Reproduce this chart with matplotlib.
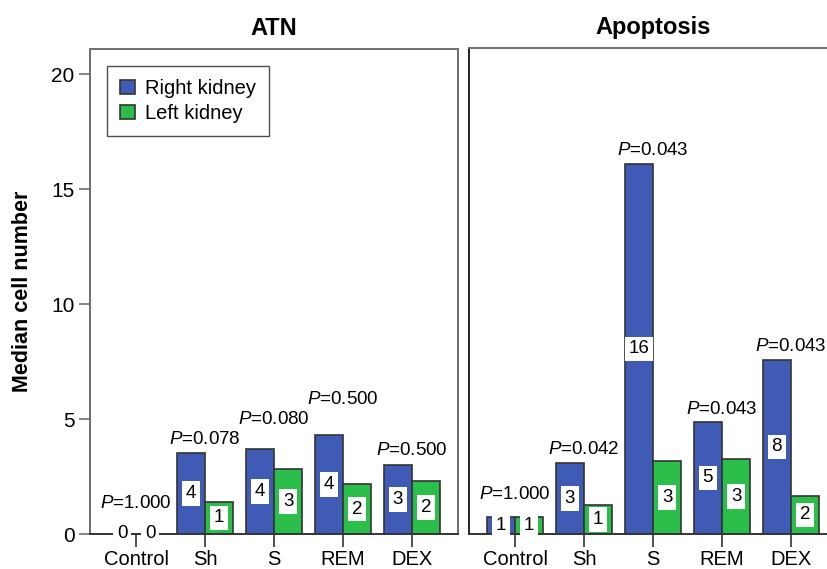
import matplotlib
matplotlib.use('Agg')
import matplotlib.pyplot as plt
import numpy as np

plt.rcParams['font.family'] = ['Liberation Sans', 'DejaVu Sans']
plt.rcParams['mathtext.fontset'] = 'custom'
plt.rcParams['mathtext.it'] = 'Liberation Sans:italic'
plt.rcParams['mathtext.rm'] = 'Liberation Sans'

groups = ['Control', 'Sh', 'S', 'REM', 'DEX']
panels = ['ATN', 'Apoptosis']

# bar heights
atn_right = [0, 3.52, 3.70, 4.30, 3.00]
atn_left = [0, 1.40, 2.83, 2.17, 2.32]
apo_right = [0.75, 3.07, 16.07, 4.88, 7.57]
apo_left = [0.75, 1.26, 3.19, 3.26, 1.67]

# median numbers printed inside the bars
atn_right_lbl = ['0', '4', '4', '4', '3']
atn_left_lbl = ['0', '1', '3', '2', '2']
apo_right_lbl = ['1', '3', '16', '5', '8']
apo_left_lbl = ['1', '1', '3', '3', '2']

atn_p = ['1.000', '0.078', '0.080', '0.500', '0.500']
apo_p = ['1.000', '0.042', '0.043', '0.043', '0.043']

BLUE = '#3F5BB6'
GREEN = '#2CBE4A'
EDGE = '#333333'
GRAY = '#6E6E6E'

fig = plt.figure(figsize=(8.27, 5.69), dpi=100)
ax1 = fig.add_axes([90 / 827, 35 / 569, 368 / 827, 485 / 569])
ax2 = fig.add_axes([469 / 827, 35 / 569, 368 / 827, 486 / 569])

x = np.arange(len(groups))
w = 0.41

data = [
    (atn_right, atn_left, atn_right_lbl, atn_left_lbl, atn_p, [30, 14, 29, 36, 15]),
    (apo_right, apo_left, apo_right_lbl, apo_left_lbl, apo_p, [22, 14, 13, 12, 13]),
]

for ax, title, (r, l, rl, ll, pv, lift) in zip([ax1, ax2], panels, data):
    ax.bar(x - w / 2, r, w, color=BLUE, edgecolor=EDGE, linewidth=1.2, label='Right kidney', zorder=2)
    ax.bar(x + w / 2, l, w, color=GREEN, edgecolor=EDGE, linewidth=1.2, label='Left kidney', zorder=2)
    for i in range(len(groups)):
        for xx, h, t in [(x[i] - w / 2, r[i], rl[i]), (x[i] + w / 2, l[i], ll[i])]:
            ax.text(xx, h / 2, t, ha='center', va='center', fontsize=13.5, zorder=4,
                    bbox=dict(boxstyle='square,pad=0.2', facecolor='white', edgecolor='none'))
        ax.annotate(r'$\it{P}$=' + pv[i], (x[i], max(r[i], l[i])),
                    xytext=(0, lift[i]), textcoords='offset pixels',
                    ha='center', va='center', fontsize=13.5, zorder=5, annotation_clip=False)
    ax.set_xlim(-0.67, 4.67)
    ax.set_ylim(0, 21.1)
    ax.set_xticks(x)
    ax.set_xticklabels(groups, fontsize=14.5)
    ax.tick_params(axis='x', length=9, width=1.2, color=EDGE, pad=2.5)
    ax.set_title(title, fontsize=17, fontweight='bold', pad=10)
    for s in ['top', 'right', 'left']:
        ax.spines[s].set_color(GRAY)
        ax.spines[s].set_linewidth(1.4)
    ax.spines['bottom'].set_color(EDGE)
    ax.spines['bottom'].set_linewidth(1.4)
    ax.spines['bottom'].set_zorder(3)

ax1.set_yticks([0, 5, 10, 15, 20])
ax1.tick_params(axis='y', labelsize=15, length=8, width=1.2, color=GRAY, pad=3)
ax1.set_ylabel('Median cell number', fontsize=15.5, fontweight='bold')
ax1.yaxis.set_label_coords(-0.155, 0.5)
ax2.set_yticks([])
ax2.spines['left'].set_color('#222222')

leg = ax1.legend(loc='upper left', bbox_to_anchor=(0.045, 0.965), borderaxespad=0,
                 fontsize=14.5, frameon=True, fancybox=False, edgecolor='#222222',
                 handlelength=0.75, handleheight=0.75, handletextpad=0.5,
                 labelspacing=0.3, borderpad=0.65)
leg.get_frame().set_linewidth(1.0)

fig.savefig('out.png', dpi=100)
